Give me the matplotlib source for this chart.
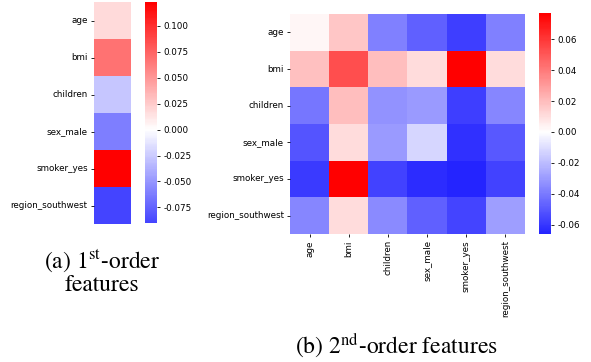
import numpy as np
import pandas as pd
import matplotlib
matplotlib.use("Agg")
import matplotlib.pyplot as plt
import seaborn as sns

features = ["age", "bmi", "children", "sex_male", "smoker_yes", "region_southwest"]

# first-order weights
first_order = [0.018, 0.068, -0.027, -0.062, 0.123, -0.090]

# second-order interaction weights (row feature x column feature)
age_row = [0.003, 0.017, -0.038, -0.048, -0.058, -0.038]
bmi_row = [0.019, 0.053, 0.020, 0.011, 0.077, 0.010]
children_row = [-0.041, 0.020, -0.033, -0.030, -0.058, -0.036]
sex_male_row = [-0.051, 0.011, -0.030, -0.012, -0.062, -0.050]
smoker_row = [-0.059, 0.077, -0.057, -0.063, -0.066, -0.057]
region_row = [-0.036, 0.011, -0.035, -0.048, -0.056, -0.029]

first_df = pd.DataFrame({"w": first_order}, index=features)
second_df = pd.DataFrame([age_row, bmi_row, children_row, sex_male_row,
                          smoker_row, region_row],
                         index=features, columns=features)

plt.rcParams["mathtext.fontset"] = "stix"

fig = plt.figure(figsize=(5.91, 3.62), dpi=100)

ax1 = fig.add_axes([0.159, 0.381, 0.0626, 0.613])
cax1 = fig.add_axes([0.2453, 0.384, 0.0203, 0.6105])
ax2 = fig.add_axes([0.4907, 0.3536, 0.3976, 0.6077])
cax2 = fig.add_axes([0.912, 0.3536, 0.0203, 0.6105])

sns.heatmap(first_df, ax=ax1, cbar_ax=cax1, cmap="bwr", center=0,
            xticklabels=False, yticklabels=True)
sns.heatmap(second_df, ax=ax2, cbar_ax=cax2, cmap="bwr", center=0,
            xticklabels=True, yticklabels=True)

for ax in (ax1, ax2):
    ax.tick_params(axis="both", labelsize=6.3, length=2.5, width=0.6, pad=2)
    plt.setp(ax.get_yticklabels(), rotation=0)
plt.setp(ax2.get_xticklabels(), rotation=90)

cax1.yaxis.set_major_locator(matplotlib.ticker.MultipleLocator(0.025))
cax2.yaxis.set_major_locator(matplotlib.ticker.MultipleLocator(0.02))
cax1.yaxis.set_major_formatter(matplotlib.ticker.FormatStrFormatter("%.3f"))
cax2.yaxis.set_major_formatter(matplotlib.ticker.FormatStrFormatter("%.2f"))
for cax in (cax1, cax2):
    cax.tick_params(labelsize=6.3, length=2.5, width=0.6, pad=2)

fig.text(102 / 591, 1 - 261 / 362, r"(a) 1$^{\mathrm{st}}$-order",
         ha="center", va="center", fontsize=17, family="STIXGeneral")
fig.text(102 / 591, 1 - 285 / 362, "features",
         ha="center", va="center", fontsize=17, family="STIXGeneral")
fig.text(396 / 591, 1 - 346 / 362, r"(b) 2$^{\mathrm{nd}}$-order features",
         ha="center", va="center", fontsize=17, family="STIXGeneral")

fig.savefig("out.png", dpi=100)
